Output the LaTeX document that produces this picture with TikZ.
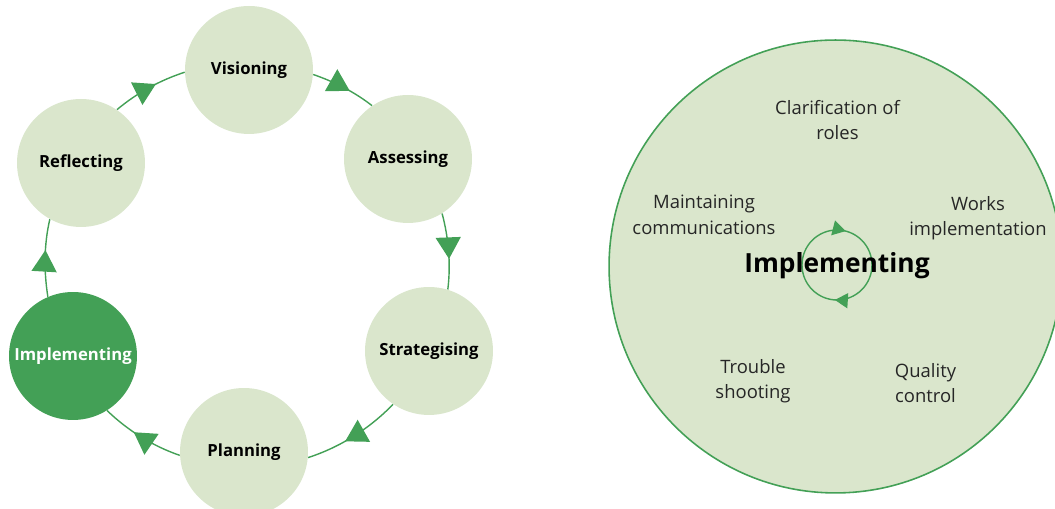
\documentclass[tikz,border=0pt]{standalone}
\usepackage{fontspec}
\setmainfont{Open Sans}
\usetikzlibrary{arrows.meta,decorations.markings}
\definecolor{leafgreen}{RGB}{67,160,86}
\definecolor{palegreen}{RGB}{218,230,204}
\tikzset{
  stage/.style={circle, fill=palegreen, minimum size=2.56cm, inner sep=0pt,
    font=\fontsize{9.5}{11}\selectfont\bfseries},
  flow/.style={leafgreen, line width=0.8pt, looseness=0.86, postaction={decorate},
    decoration={markings, mark=at position 0.6 with {\arrow{Triangle[length=0.43cm,width=0.5cm]}}}},
  task/.style={align=center, text=black!85, font=\fontsize{10.5}{14.5}\selectfont}
}
\begin{document}
\begin{tikzpicture}[x=0.02cm,y=0.02cm]
\useasboundingbox (0,0) rectangle (1055,509);
% the cycle
\node[stage] (vis) at (249,439) {Visioning};
\node[stage] (ass) at (408,350) {Assessing};
\node[stage] (str) at (429,158) {Strategising};
\node[stage] (pla) at (244,57) {Planning};
\node[stage, fill=leafgreen, text=white] (imp) at (73,153) {Implementing};
\node[stage] (ref) at (81,346) {Reflecting};
\draw[flow] (vis.-4) to[out=-19, in=142] (ass.124);
\draw[flow] (ass.-58) to[out=-75, in=83] (str.73);
\draw[flow] (str.-124) to[out=-134, in=18] (pla.-5);
\draw[flow] (pla.183) to[out=161, in=-44] (imp.-58);
\draw[flow] (imp.113) to[out=99, in=-103] (ref.-119);
\draw[flow] (ref.56) to[out=40, in=198] (vis.182);
% close-up of implementing
\node[circle, draw=leafgreen, line width=0.9pt, fill=palegreen, minimum size=9.06cm] (big) at (835.5,242.5) {};
\draw[leafgreen, line width=0.8pt, postaction={decorate},
  decoration={markings,
    mark=at position 0.21 with {\arrowreversed{Triangle[length=0.26cm,width=0.3cm]}},
    mark=at position 0.74 with {\arrowreversed{Triangle[length=0.26cm,width=0.3cm]}}}]
  (837,244) circle[radius=0.7cm];
\node[font=\fontsize{15}{18}\selectfont\bfseries] (impl) at (837,243) {Implementing};
\node[task] (cla) at (837.5,389) {Clarification of\\roles};
\node[task] (mai) at (704,294) {Maintaining\\communications};
\node[task] (wor) at (978,291) {Works\\implementation};
\node[task] (tro) at (753,128) {Trouble\\shooting};
\node[task] (qua) at (925.5,126) {Quality\\control};
\end{tikzpicture}
\end{document}
